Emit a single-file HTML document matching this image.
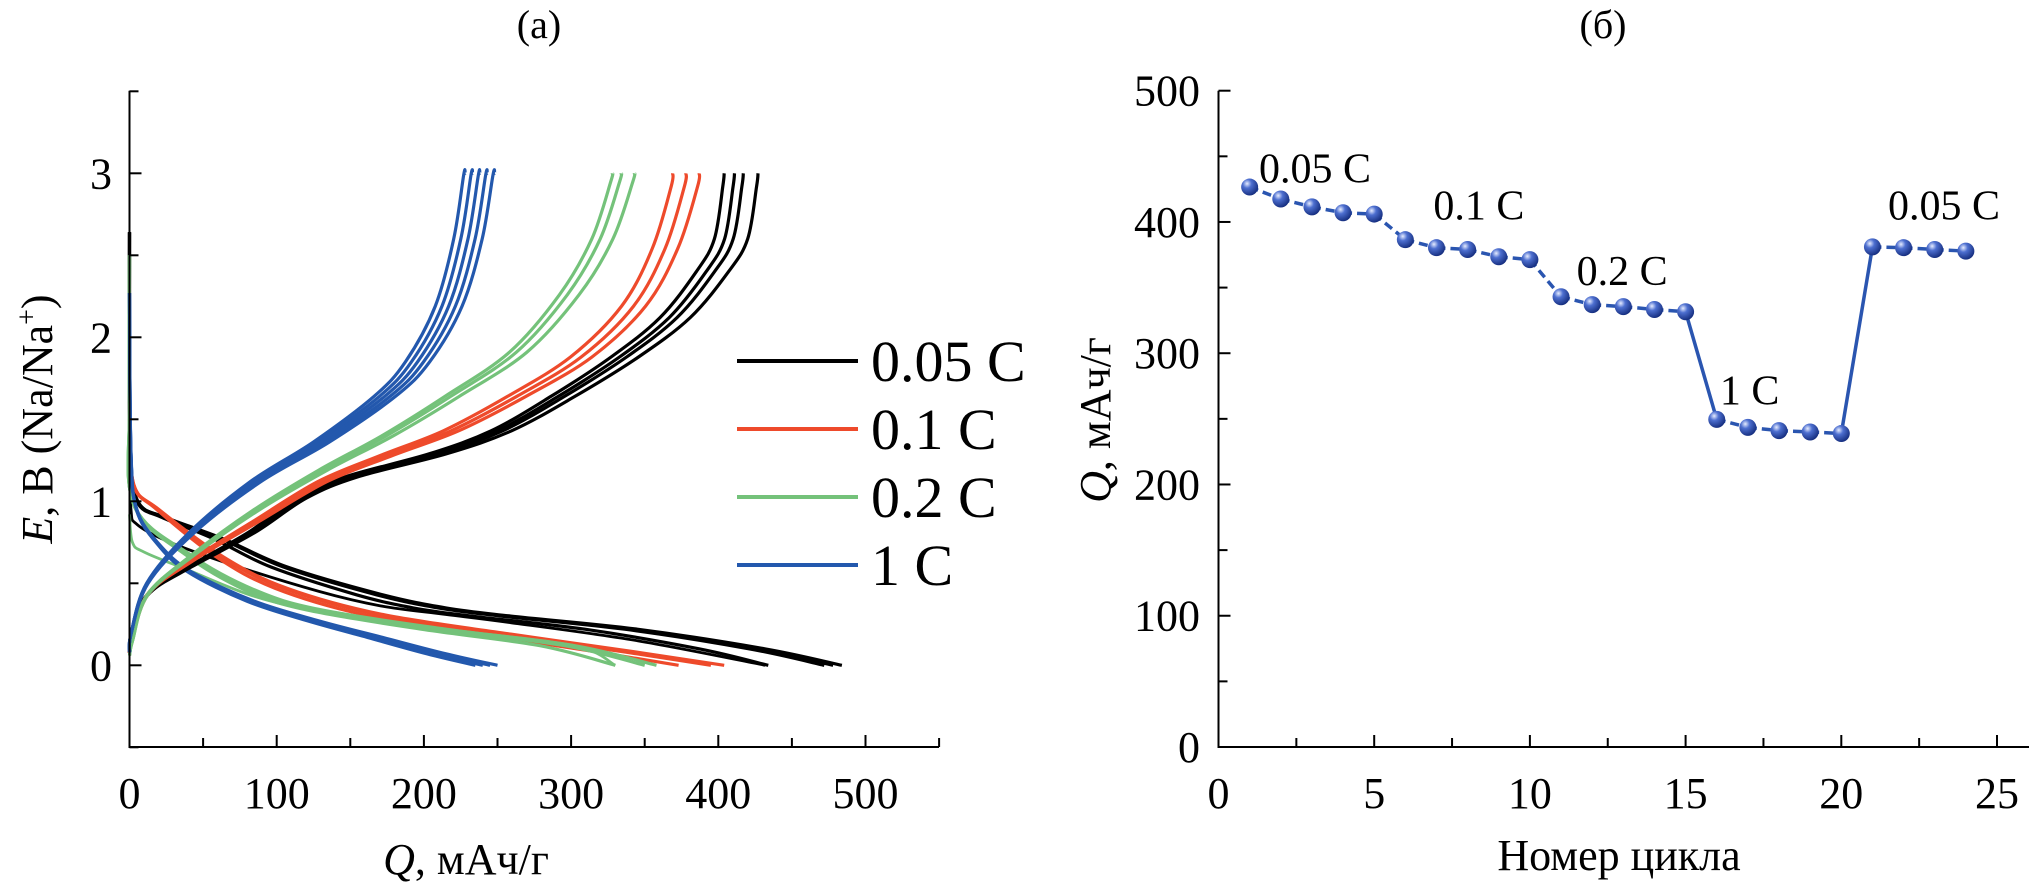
<!DOCTYPE html>
<html><head><meta charset="utf-8"><style>
html,body{margin:0;padding:0;background:#fff;}
svg{display:block;}
svg text{font-family:"Liberation Serif","DejaVu Serif",serif;}
</style></head><body>
<svg id="chart" width="2029" height="884" viewBox="0 0 2029 884" xmlns="http://www.w3.org/2000/svg" font-family="Liberation Serif, serif">
<defs>
<radialGradient id="ball" cx="0.35" cy="0.3" r="0.75">
<stop offset="0" stop-color="#e6ecff"/><stop offset="0.35" stop-color="#4d6fd0"/><stop offset="1" stop-color="#122a7a"/>
</radialGradient>
</defs>
<g id="left"></g>
<g id="right"></g>
</svg>
<script>
// ---------- Panel (a) data ----------
const rates = ["0.05 C","0.1 C","0.2 C","1 C"];
const rateColors = ["#000000","#ee4a2b","#74c27a","#2358ad"];
const chargeBlack = [[0,0.08],[2,0.2],[5,0.32],[16,0.46],[42,0.6],[85,0.81],[120,1.02],[155,1.15],[215,1.29],[259,1.43],[302,1.64],[345,1.88],[380,2.12],[406,2.4],[419,2.6],[425,2.92],[426,3]];
const chargeRed = [[0,0.08],[1,0.12],[12,0.43],[42,0.64],[85,0.88],[129,1.12],[172,1.28],[215,1.43],[259,1.64],[302,1.88],[337,2.19],[358,2.54],[371,2.92],[372,3]];
const chargeGreen = [[0,0.06],[2,0.15],[12,0.43],[42,0.67],[85,0.95],[129,1.19],[172,1.4],[215,1.64],[259,1.91],[293,2.26],[315,2.6],[328,2.95],[329,3]];
const chargeBlue = [[0,0.08],[1,0.19],[12,0.5],[42,0.81],[85,1.12],[129,1.36],[172,1.64],[194,1.85],[215,2.19],[228,2.6],[235,2.99],[236,3]];
const chargeCaps = [[404,411,417,427],[369,378,387],[328,334,343],[228,233,238,243,248]];
const dischBlack = [[0,2.64],[0,1.6],[1,1.2],[7,0.98],[25,0.9],[64,0.77],[107,0.6],[172,0.43],[215,0.35],[259,0.3],[345,0.22],[432,0.1],[484,0]];
const dischRed = [[0,1.5],[3,1.1],[20,0.95],[64,0.66],[107,0.47],[172,0.31],[259,0.19],[345,0.08],[404,0]];
const dischGreen = [[0,2.5],[0,1.6],[3,0.98],[42,0.67],[85,0.46],[129,0.34],[215,0.22],[302,0.12],[358,0]];
const dischBlue = [[0,2.27],[1,1.3],[5,0.95],[20,0.74],[42,0.57],[85,0.39],[129,0.27],[172,0.17],[215,0.07],[250,0]];
const dischCaps = [[434,472,478,484],[373,395,404],[330,350,358],[235,240,245,250]];
const firstBlack = [[0,1.35],[1,0.95],[5,0.86],[25,0.76],[64,0.63],[129,0.45],[172,0.36],[215,0.31],[259,0.26],[345,0.15],[432,0]];
const firstGreen = [[0,0.92],[2,0.75],[10,0.69],[40,0.58],[85,0.42],[130,0.33],[215,0.22],[302,0.12],[330,0]];
const leftXTicks = [0,100,200,300,400,500];
const leftYTicks = [0,1,2,3];

// ---------- Panel (б) data ----------
const cycles = [1,2,3,4,5,6,7,8,9,10,11,12,13,14,15,16,17,18,19,20,21,22,23,24];
const capacity = [426.6,417.5,411.5,407,406,386.5,380.4,379,373.5,371.3,343,337,335.5,333.3,331.6,249.6,243.5,241,240,238.8,381,380.4,379,377.8];
const rightXTicks = [0,5,10,15,20,25];
const rightYTicks = [0,100,200,300,400,500];
const annotLabels = ["0.05 C","0.1 C","0.2 C","1 C","0.05 C"];
const annotCycle = [1.3,6.9,11.5,16.1,21.5];
const annotValue = [430,402,352,261,402];

const NS="http://www.w3.org/2000/svg";
function mk(parent,tag,attrs,text){const e=document.createElementNS(NS,tag);for(const k in attrs)e.setAttribute(k,attrs[k]);if(text!==undefined)e.textContent=text;parent.appendChild(e);return e;}

const L={x0:129.5,x1:939,y0:747,y1:90.7};
const lx=q=>129.5+q*1.472;
const ly=v=>665.3-v*164.0;
const left=document.getElementById('left');
function pathFrom(pts,scale){
  const P=pts.map(p=>[lx(p[0]*scale),ly(p[1])]);
  let d='M'+P[0][0].toFixed(1)+' '+P[0][1].toFixed(1);
  for(let i=0;i<P.length-1;i++){
    const p0=P[Math.max(0,i-1)],p1=P[i],p2=P[i+1],p3=P[Math.min(P.length-1,i+2)];
    const t=1/6;
    const c1=[p1[0]+(p2[0]-p0[0])*t,p1[1]+(p2[1]-p0[1])*t];
    const c2=[p2[0]-(p3[0]-p1[0])*t,p2[1]-(p3[1]-p1[1])*t];
    d+=` C${c1[0].toFixed(1)} ${c1[1].toFixed(1)} ${c2[0].toFixed(1)} ${c2[1].toFixed(1)} ${p2[0].toFixed(1)} ${p2[1].toFixed(1)}`;
  }
  return d;
}
function drawFamily(base,caps,color,name,w){
  const ref=base[base.length-1][0];
  caps.forEach(c=>{
    const p=mk(left,'path',{d:pathFrom(base,c/ref),fill:'none',stroke:color,'stroke-width':w,'stroke-linejoin':'round'});
    
    
  });
}
drawFamily(dischBlack,dischCaps[0],rateColors[0],'discharge-curve-0.05c',3.2);
drawFamily(firstBlack,[432],rateColors[0],'discharge-curve-0.05c-first',2.8);
drawFamily(dischRed,dischCaps[1],rateColors[1],'discharge-curve-0.1c',3.2);
drawFamily(dischGreen,dischCaps[2],rateColors[2],'discharge-curve-0.2c',3.2);
drawFamily(firstGreen,[330],rateColors[2],'discharge-curve-0.2c-first',2.8);
drawFamily(dischBlue,dischCaps[3],rateColors[3],'discharge-curve-1c',3.2);
drawFamily(chargeBlack,chargeCaps[0],rateColors[0],'charge-curve-0.05c',3.2);
drawFamily(chargeRed,chargeCaps[1],rateColors[1],'charge-curve-0.1c',3.2);
drawFamily(chargeGreen,chargeCaps[2],rateColors[2],'charge-curve-0.2c',3.2);
drawFamily(chargeBlue,chargeCaps[3],rateColors[3],'charge-curve-1c',3.2);

let a=mk(left,'path',{d:`M${L.x0} ${L.y1} L${L.x0} ${L.y0} L${L.x1} ${L.y0}`,fill:'none',stroke:'#000','stroke-width':2});


for(let q=0;q<=550;q+=50){mk(left,'line',{x1:lx(q),x2:lx(q),y1:L.y0,y2:L.y0-(q%100?9:12),stroke:'#000','stroke-width':2});}
for(let v=-0.5;v<=3.5;v+=0.5){mk(left,'line',{x1:L.x0,x2:L.x0+(v%1?9:12),y1:ly(v),y2:ly(v),stroke:'#000','stroke-width':2});}
leftXTicks.forEach(t=>{const e=mk(left,'text',{x:lx(t),y:808,'font-size':44,'text-anchor':'middle'},String(t));

});
leftYTicks.forEach(t=>{const e=mk(left,'text',{x:112,y:ly(t)+15,'font-size':44,'text-anchor':'end'},String(t));

});
let t=mk(left,'text',{x:539,y:38,'font-size':40,'text-anchor':'middle'},'(a)');


t=mk(left,'text',{x:466,y:874,'font-size':44,'text-anchor':'middle'});
t.innerHTML='<tspan font-style="italic">Q</tspan>, мАч/г';


t=mk(left,'text',{x:0,y:0,'font-size':44,'text-anchor':'middle',transform:'translate(52 419) rotate(-90)'});
t.innerHTML='<tspan font-style="italic">E</tspan>, В (Na/Na<tspan font-size="28" dy="-16">+</tspan><tspan dy="16">)</tspan>';


const legY=[361,429,497,565];
rates.forEach((r,i)=>{
  const g=mk(left,'g',{});
  
  
  mk(g,'line',{x1:737,x2:858,y1:legY[i],y2:legY[i],stroke:rateColors[i],'stroke-width':4});
  mk(g,'text',{x:871,y:legY[i]+20,'font-size':58},r);
});

const right=document.getElementById('right');
const R={x0:1218.5,x1:2029,y0:747,y1:90.7};
const rx=c=>1218.5+c*31.14;
const ry=v=>747-v*1.3126;
for(let i=1;i<cycles.length;i++){
  const big=Math.abs(capacity[i]-capacity[i-1])>40;
  const s=mk(right,'line',{x1:rx(cycles[i-1]),y1:ry(capacity[i-1]),x2:rx(cycles[i]),y2:ry(capacity[i]),stroke:'#2a55b0','stroke-width':3.5,'stroke-dasharray':big?'none':'9 5'});
  
  
}
cycles.forEach((c,i)=>{
  const m=mk(right,'circle',{cx:rx(c),cy:ry(capacity[i]),r:8.5,fill:'url(#ball)'});
  
  
});
a=mk(right,'path',{d:`M${R.x0} ${R.y1} L${R.x0} ${R.y0} L${R.x1} ${R.y0}`,fill:'none',stroke:'#000','stroke-width':2});


for(let c=0;c<=25;c+=2.5){mk(right,'line',{x1:rx(c),x2:rx(c),y1:R.y0,y2:R.y0-(c%5?9:12),stroke:'#000','stroke-width':2});}
for(let v=0;v<=500;v+=50){mk(right,'line',{x1:R.x0,x2:R.x0+(v%100?9:12),y1:ry(v),y2:ry(v),stroke:'#000','stroke-width':2});}
rightXTicks.forEach(tk=>{const e=mk(right,'text',{x:rx(tk),y:808,'font-size':44,'text-anchor':'middle'},String(tk));

});
rightYTicks.forEach(tk=>{const e=mk(right,'text',{x:1200,y:ry(tk)+15,'font-size':44,'text-anchor':'end'},String(tk));

});
annotLabels.forEach((s,i)=>{const e=mk(right,'text',{x:rx(annotCycle[i]),y:ry(annotValue[i]),'font-size':42},s);

});
t=mk(right,'text',{x:1603,y:38,'font-size':40,'text-anchor':'middle'},'(б)');


t=mk(right,'text',{x:1619,y:870,'font-size':44,'text-anchor':'middle'},'Номер цикла');


t=mk(right,'text',{x:0,y:0,'font-size':44,'text-anchor':'middle',transform:'translate(1110 420) rotate(-90)'});
t.innerHTML='<tspan font-style="italic">Q</tspan>, мАч/г';


</script>
</body></html>
